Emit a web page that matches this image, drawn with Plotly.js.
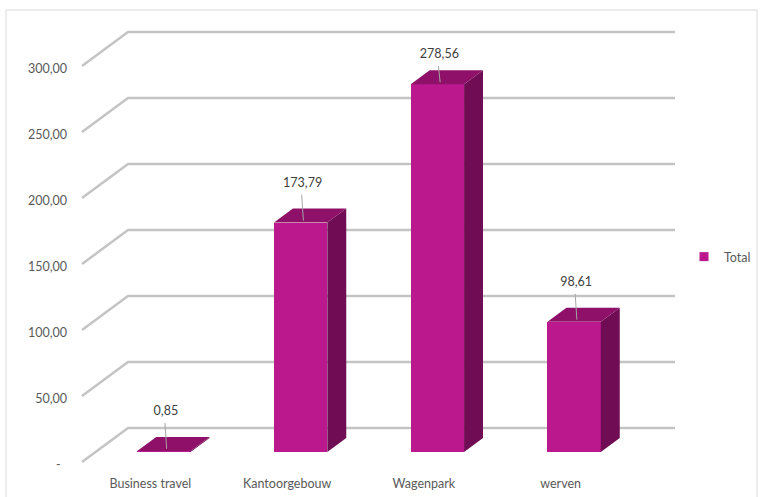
<!DOCTYPE html>
<html>
<head>
<meta charset="utf-8">
<script src="https://cdn.plot.ly/plotly-3.0.1.min.js"></script>
<style>html,body{margin:0;padding:0;background:#fff;}#chart{width:760px;height:497px;}</style>
</head>
<body>
<div id="chart"></div>
<script>
// ---- data ----
const categories = ['Business travel', 'Kantoorgebouw', 'Wagenpark', 'werven'];
const totals = [0.85, 173.79, 278.56, 98.61];
const seriesName = 'Total';
const tickValues = [0, 50, 100, 150, 200, 250, 300];
const tickLabels = ['-\u00a0\u00a0', '50,00', '100,00', '150,00', '200,00', '250,00', '300,00'];

// ---- oblique 3D projection (pixel geometry of the Excel-style chart) ----
const W = 760, H = 497;
const ORIGIN_X = 82, ORIGIN_Y = 462;       // front-left floor corner (px)
const PX_PER_CAT = 136.75, PX_PER_UNIT = 1.32;
const DEPTH_X = 46, DEPTH_Y = 34;          // floor depth offset (px)
const dU = DEPTH_X / PX_PER_CAT, dV = DEPTH_Y / PX_PER_UNIT;
const proj = (u, v, d) => [u + d * dU, v + d * dV];
const dF = 10 / 34, dB = 24 / 34;          // bar front / back depth
const HALF = 0.195;                        // half bar width (category units)

const C_FRONT = '#BA188C', C_TOP = '#8E1068', C_SIDE = '#6F0C53';
const GRID = '#C4C4C4';
const FONT = 'Lato, "Open Sans", sans-serif';
const fmt = v => v.toFixed(2).replace('.', ',');

const traces = [];

// side and top faces
categories.forEach((c, i) => {
  const v = totals[i];
  const l = i + 0.5 - HALF, r = i + 0.5 + HALF;
  const side = [proj(r, 0, dF), proj(r, v, dF), proj(r, v, dB), proj(r, 0, dB)];
  const top = [proj(l, v, dF), proj(r, v, dF), proj(r, v, dB), proj(l, v, dB)];
  [[side, C_SIDE], [top, C_TOP]].forEach(([pts, col]) => {
    traces.push({
      type: 'scatter', mode: 'lines', fill: 'toself',
      x: pts.map(p => p[0]), y: pts.map(p => p[1]),
      line: {width: 0, color: col}, fillcolor: col,
      showlegend: false, hoverinfo: 'skip'
    });
  });
});

// front faces
traces.push({
  type: 'bar',
  x: categories.map((c, i) => proj(i + 0.5, 0, dF)[0]),
  y: totals,
  base: categories.map(() => proj(0, 0, dF)[1]),
  width: 2 * HALF,
  marker: {color: C_FRONT, line: {width: 0}},
  showlegend: false, hoverinfo: 'skip'
});

// data labels with leader lines
const LABEL_UP = 39 / PX_PER_UNIT;
const LABEL_MAX = (ORIGIN_Y - 55) / PX_PER_UNIT;
const labelPos = totals.map((v, i) => {
  const front = proj(i + 0.5, v, dF);
  return [front[0] + 2 / PX_PER_CAT, Math.min(front[1] + LABEL_UP, LABEL_MAX)];
});
const lx = [], ly = [];
totals.forEach((v, i) => {
  const front = proj(i + 0.5, v, 0.06 + dF);
  lx.push(labelPos[i][0] - 1 / PX_PER_CAT, front[0], null);
  ly.push(labelPos[i][1] - 11 / PX_PER_UNIT, front[1], null);
});
traces.push({
  type: 'scatter', mode: 'lines', x: lx, y: ly,
  line: {color: '#A6A6A6', width: 1}, showlegend: false, hoverinfo: 'skip'
});
traces.push({
  type: 'scatter', mode: 'text',
  x: labelPos.map(p => p[0]), y: labelPos.map(p => p[1]),
  text: totals.map(fmt), textposition: 'middle center',
  textfont: {family: FONT, size: 12.5, color: '#404040'},
  showlegend: false, hoverinfo: 'skip'
});

// legend entry
traces.push({
  type: 'scatter', mode: 'markers', x: [null], y: [null], name: seriesName,
  marker: {symbol: 'square', size: 9, color: C_FRONT}, showlegend: true
});

// gridlines (floor diagonal + back wall)
const shapes = [];
tickValues.forEach(t => {
  const a = proj(0, t, 0), b = proj(0, t, 1), c = proj(categories.length, t, 1);
  shapes.push({type: 'path', layer: 'below', xref: 'x', yref: 'y',
    path: 'M' + a[0] + ',' + a[1] + 'L' + b[0] + ',' + b[1] + 'L' + c[0] + ',' + c[1],
    line: {color: GRID, width: 2.5}});
});
// chart border
shapes.push({type: 'rect', xref: 'paper', yref: 'paper', layer: 'above',
  x0: 6 / W, x1: 757 / W, y0: -0.01, y1: 1 - 10 / H,
  line: {color: '#D9D9D9', width: 1}, fillcolor: 'rgba(0,0,0,0)'});

const layout = {
  width: W, height: H,
  margin: {l: 0, r: 0, t: 0, b: 0},
  paper_bgcolor: '#fff', plot_bgcolor: 'rgba(0,0,0,0)',
  font: {family: FONT, color: '#595959', size: 12.5},
  showlegend: true,
  legend: {x: 0.9, y: 1 - 257 / H, xanchor: 'left', yanchor: 'middle',
    font: {family: FONT, size: 12.5, color: '#595959'}, bgcolor: 'rgba(0,0,0,0)'},
  shapes: shapes,
  xaxis: {
    range: [-ORIGIN_X / PX_PER_CAT, (W - ORIGIN_X) / PX_PER_CAT],
    tickvals: categories.map((c, i) => i + 0.5), ticktext: categories,
    anchor: 'free', position: (H - ORIGIN_Y) / H,
    showgrid: false, zeroline: false, showline: false, ticks: '',
    ticklabelstandoff: 12,
    tickfont: {family: FONT, size: 12.5, color: '#595959'}, fixedrange: true
  },
  yaxis: {
    range: [(ORIGIN_Y - H) / PX_PER_UNIT, ORIGIN_Y / PX_PER_UNIT],
    tickvals: tickValues, ticktext: tickLabels,
    anchor: 'free', position: ORIGIN_X / W,
    showgrid: false, zeroline: false, showline: false, ticks: '',
    ticklabelstandoff: 15, ticklabelshift: 3,
    tickfont: {family: FONT, size: 12.5, color: '#595959'}, fixedrange: true
  },
  bargap: 0
};

Plotly.newPlot('chart', traces, layout, {displayModeBar: false, staticPlot: true});
</script>
</body>
</html>
